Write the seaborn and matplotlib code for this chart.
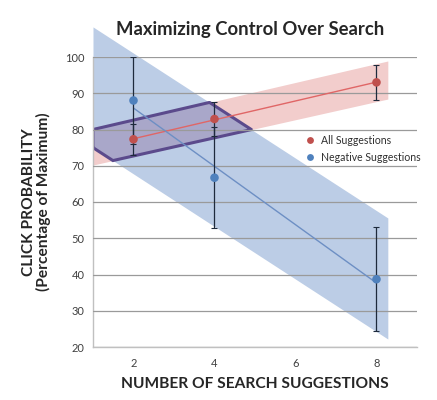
import numpy as np
import pandas as pd
import matplotlib
matplotlib.use("Agg")
import matplotlib.pyplot as plt
import seaborn as sns

# values
suggestions = [2, 4, 8]
all_mean = [77.3, 82.9, 93.0]
all_err = [4.2, 4.6, 4.8]
neg_mean = [88.0, 66.7, 38.7]
neg_err = [12.0, 14.0, 14.3]

# shaded bands (edges at left / right end)
band_x = [1.0, 8.28]
red_top = [80.0, 98.9]
red_bottom = [70.2, 88.4]
blue_top = [108.3, 55.6]
blue_bottom = [75.0, 22.2]

RED = "#c0504d"
BLUE = "#4f81bd"

sns.set_style("white")
plt.rcParams["font.family"] = ["Lato", "DejaVu Sans"]

df = pd.DataFrame({
    "x": suggestions * 2,
    "y": all_mean + neg_mean,
    "series": ["All Suggestions"] * 3 + ["Negative Suggestions"] * 3,
})

fig = plt.figure(figsize=(4.37, 4.0), dpi=100)
ax = fig.add_axes([0.2128, 0.1325, 0.7414, 0.725])

# bands
ax.fill_between(band_x, red_bottom, red_top, color="#f2cdcc", lw=0, zorder=1)
ax.fill_between(band_x, blue_bottom, blue_top, color="#bccde6", lw=0, zorder=1.1, clip_on=False)

# overlap of the two bands, outlined
xs = np.linspace(band_x[0], band_x[1], 400)
top = np.minimum(np.interp(xs, band_x, red_top), np.interp(xs, band_x, blue_top))
bot = np.maximum(np.interp(xs, band_x, red_bottom), np.interp(xs, band_x, blue_bottom))
inside = top > bot
px = np.concatenate([xs[inside], xs[inside][::-1]])
py = np.concatenate([top[inside], bot[inside][::-1]])
ax.fill(px, py, facecolor="#a9a7c9", edgecolor="#5b4a8c", lw=2.2, zorder=1.2)

# fitted lines
sns.regplot(x=suggestions, y=all_mean, scatter=False, ci=None, ax=ax,
            line_kws=dict(color="#e06666", lw=1.0, zorder=3))
sns.regplot(x=suggestions, y=neg_mean, scatter=False, ci=None, ax=ax,
            line_kws=dict(color="#6d8fc4", lw=1.0, zorder=3))

# error bars
ax.errorbar(suggestions, all_mean, yerr=all_err, fmt="none", ecolor="#1e2a3c",
            elinewidth=0.9, capsize=2.5, capthick=0.8, zorder=4)
ax.errorbar(suggestions, neg_mean, yerr=neg_err, fmt="none", ecolor="#1e2a3c",
            elinewidth=0.9, capsize=2.5, capthick=0.8, zorder=4)

sns.scatterplot(data=df, x="x", y="y", hue="series", palette=[RED, BLUE],
                s=38, edgecolor="none", ax=ax, zorder=5)

ax.set_xlim(1, 9)
ax.set_ylim(20, 100)
ax.set_yticks(range(20, 101, 10))
ax.set_xticks([2, 4, 6, 8])
ax.set_xticks([1, 3, 5, 7, 9], minor=True)
ax.tick_params(axis="x", which="major", length=0, pad=8, labelsize=8, labelcolor="#404040")
ax.tick_params(axis="x", which="minor", length=3, color="#b0b0b0", direction="out")
ax.tick_params(axis="y", length=3, color="#b0b0b0", labelsize=8, labelcolor="#404040", pad=3)
ax.grid(axis="y", color="#9a9a9a", lw=0.9)
ax.set_axisbelow(False)
for s in ["top", "right"]:
    ax.spines[s].set_visible(False)
for s in ["left", "bottom"]:
    ax.spines[s].set_color("#c0c0c0")
    ax.spines[s].set_linewidth(1.0)

ax.set_xlabel("NUMBER OF SEARCH SUGGESTIONS", fontsize=11.2, fontweight="bold", labelpad=6)
ax.set_ylabel("CLICK PROBABILITY\n(Percentage of Maximum)", fontsize=11.2, fontweight="bold",
              labelpad=10, linespacing=1.0)
fig.text(0.572, 0.925, "Maximizing Control Over Search", ha="center", va="center",
         fontsize=13.3, fontweight="bold")

leg = ax.legend(loc="upper left", bbox_to_anchor=(0.625, 0.745), frameon=False, fontsize=7.6,
                handletextpad=0.0, labelspacing=0.55, borderaxespad=0, markerscale=0.8)
for t in leg.get_texts():
    t.set_color("#303030")

fig.savefig("out.png", dpi=100)
